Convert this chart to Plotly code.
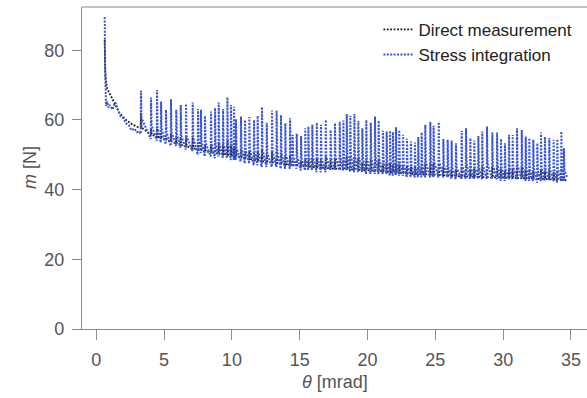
import plotly.graph_objects as go

# ---------------- data ----------------
# initial transient (before the first loading spike)
start_theta_direct = [0.62, 0.63, 0.66, 0.70, 0.80, 1.00, 1.30, 1.70, 2.20, 2.70, 3.10]
start_m_direct = [83.0, 78.0, 74.0, 71.5, 69.0, 67.5, 65.0, 62.0, 60.0, 58.6, 57.9]

start_theta_stress = [0.62, 0.63, 0.65, 0.68, 0.72, 0.80, 0.90, 1.00, 1.20, 1.40, 1.60, 1.80, 2.00, 2.20, 2.40, 2.60, 2.80, 3.00, 3.15]
start_m_stress = [89.5, 88.0, 76.0, 67.0, 64.0, 65.3, 63.5, 64.3, 63.0, 65.0, 62.9, 61.0, 60.5, 59.0, 58.5, 57.0, 57.5, 56.5, 56.8]

# loading spikes: position, stress-integration peak / trough / shoulder,
# direct-measurement base / peak
spike_theta = [3.30, 4.04, 4.48, 4.78, 5.14, 5.51, 5.90, 6.23, 6.62, 7.11,
               7.50, 7.72, 8.02, 8.46, 8.76, 9.03, 9.35, 9.67, 9.94, 10.16,
               10.30, 10.67, 10.97, 11.29, 11.63, 11.90, 12.22, 12.57, 12.96, 13.30,
               13.62, 13.94, 14.29, 14.48, 14.78, 15.10, 15.41, 15.64, 15.93, 16.26,
               16.57, 16.92, 17.28, 17.60, 17.95, 18.22, 18.47, 18.73, 19.03, 19.32,
               19.62, 19.91, 20.24, 20.55, 20.82, 21.14, 21.41, 21.66, 21.88, 22.10,
               22.34, 22.62, 22.91, 23.20, 23.50, 23.74, 23.99, 24.26, 24.63, 24.87,
               25.25, 25.59, 25.91, 26.20, 26.52, 26.94, 27.26, 27.58, 27.87, 28.17,
               28.46, 28.81, 29.20, 29.55, 29.84, 30.13, 30.43, 30.70, 31.02, 31.37,
               31.66, 31.93, 32.22, 32.52, 32.79, 33.08, 33.40, 33.72, 33.99, 34.29,
               34.48]
stress_peak = [68.4, 66.4, 68.6, 65.3, 62.9, 65.9, 62.9, 64.3, 64.6, 65.0,
               63.1, 62.9, 61.2, 62.4, 63.4, 65.0, 63.1, 66.5, 64.3, 63.8,
               60.2, 61.0, 60.0, 60.8, 60.0, 61.2, 63.7, 59.2, 62.7, 62.7,
               61.4, 59.1, 60.5, 55.7, 56.0, 55.4, 57.6, 58.1, 58.6, 59.2,
               58.6, 60.0, 57.1, 59.1, 59.5, 59.8, 61.7, 61.2, 61.7, 59.7,
               57.6, 60.0, 59.2, 61.0, 59.8, 56.9, 56.7, 56.9, 56.5, 57.9,
               57.1, 55.7, 54.6, 53.8, 53.5, 55.1, 56.4, 58.6, 59.5, 58.3,
               59.4, 54.5, 54.3, 54.1, 53.3, 56.9, 57.6, 54.8, 54.1, 55.4,
               56.7, 58.1, 56.4, 56.4, 54.6, 53.3, 55.7, 55.7, 57.6, 57.1,
               55.2, 54.8, 54.3, 53.3, 56.4, 55.2, 54.8, 54.3, 54.5, 56.7,
               51.9]
stress_trough = [56.0, 54.5, 54.0, 53.5, 53.0, 52.5, 52.5, 52.0, 51.5, 51.0,
                 50.0, 50.5, 49.5, 49.5, 49.0, 49.5, 49.0, 49.0, 48.5, 48.5,
                 48.5, 48.0, 47.5, 47.5, 47.0, 47.0, 46.5, 46.5, 46.5, 46.5,
                 46.0, 46.0, 46.0, 46.5, 46.0, 45.5, 45.5, 45.5, 45.5, 45.0,
                 45.0, 45.0, 45.5, 45.5, 45.5, 45.5, 45.5, 45.0, 45.0, 45.0,
                 45.0, 44.5, 44.5, 44.5, 44.5, 44.5, 44.5, 44.0, 44.0, 44.0,
                 44.0, 44.0, 43.5, 43.5, 43.5, 43.5, 43.5, 43.5, 43.5, 43.5,
                 43.5, 43.5, 43.5, 43.0, 43.0, 43.0, 43.0, 43.0, 43.0, 43.0,
                 43.0, 43.0, 43.0, 43.0, 42.5, 42.5, 43.0, 43.0, 43.0, 43.0,
                 42.5, 42.5, 42.5, 42.0, 42.5, 42.5, 42.5, 42.5, 42.0, 42.5,
                 42.5]
stress_shoulder = [60.5, 58.5, 58.0, 57.5, 56.5, 56.5, 56.0, 55.5, 55.5, 55.0,
                   54.5, 54.0, 53.5, 53.5, 53.0, 53.5, 53.0, 53.5, 53.0, 52.5,
                   52.0, 52.0, 51.5, 51.5, 51.0, 51.0, 51.5, 50.5, 51.0, 51.0,
                   50.5, 50.0, 50.0, 49.5, 49.5, 49.0, 49.0, 49.5, 49.5, 49.5,
                   49.0, 49.5, 49.0, 49.5, 49.5, 49.5, 50.0, 50.0, 50.0, 49.5,
                   49.0, 49.0, 49.0, 49.5, 49.0, 48.5, 48.0, 48.0, 48.0, 48.0,
                   48.0, 47.5, 47.0, 47.0, 46.5, 47.0, 47.5, 48.0, 48.0, 48.0,
                   48.0, 47.0, 46.5, 46.5, 46.5, 47.0, 47.5, 46.5, 46.5, 46.5,
                   47.0, 47.5, 47.0, 47.0, 46.5, 46.0, 46.5, 46.5, 47.0, 47.0,
                   46.5, 46.0, 46.0, 45.5, 46.5, 46.0, 46.0, 46.0, 46.0, 46.5,
                   45.5]
direct_base = [57.8, 55.8, 55.2, 54.8, 54.2, 53.8, 53.2, 52.8, 52.4, 51.9,
               51.5, 51.3, 51.0, 50.7, 50.5, 50.3, 50.2, 50.0, 49.8, 49.6,
               49.5, 49.3, 49.0, 48.8, 48.5, 48.4, 48.2, 48.0, 47.8, 47.6,
               47.5, 47.3, 47.2, 47.1, 47.0, 46.8, 46.7, 46.6, 46.5, 46.4,
               46.3, 46.2, 46.1, 46.0, 46.0, 45.9, 45.9, 45.8, 45.8, 45.7,
               45.6, 45.6, 45.5, 45.4, 45.3, 45.2, 45.1, 45.0, 45.0, 44.9,
               44.8, 44.7, 44.6, 44.6, 44.5, 44.5, 44.4, 44.4, 44.3, 44.3,
               44.2, 44.1, 44.0, 44.0, 43.9, 43.8, 43.8, 43.7, 43.7, 43.6,
               43.6, 43.6, 43.5, 43.5, 43.5, 43.4, 43.4, 43.4, 43.3, 43.3,
               43.3, 43.2, 43.2, 43.1, 43.1, 43.0, 43.0, 42.9, 42.9, 42.8,
               42.8]
direct_peak = [62.0, 57.5, 58.0, 56.5, 55.5, 56.0, 55.0, 55.0, 55.0, 55.0,
               53.5, 53.5, 53.0, 53.0, 53.0, 53.5, 53.0, 54.0, 53.0, 52.5,
               51.5, 51.5, 51.0, 51.0, 50.5, 51.0, 51.5, 50.0, 51.0, 51.0,
               50.5, 49.5, 50.0, 48.5, 48.5, 48.0, 48.5, 48.5, 49.0, 49.0,
               49.0, 49.5, 48.5, 49.0, 49.0, 49.0, 49.5, 49.5, 49.5, 49.0,
               48.0, 49.0, 48.5, 49.0, 48.5, 47.5, 47.5, 47.5, 47.0, 47.5,
               47.5, 47.0, 46.5, 46.5, 46.5, 46.5, 47.0, 47.5, 47.5, 47.5,
               47.5, 46.5, 46.5, 46.0, 46.0, 46.5, 47.0, 46.0, 46.0, 46.0,
               46.5, 47.0, 46.5, 46.5, 46.0, 45.5, 46.0, 46.0, 46.5, 46.5,
               45.5, 45.5, 45.5, 45.0, 46.0, 45.5, 45.5, 45.0, 45.0, 46.0,
               45.0]
end_theta = [34.73]
end_m_direct = [42.6]
end_m_stress = [43.4]

# ---------------- assemble the two series ----------------
theta_stress = list(start_theta_stress)
m_stress = list(start_m_stress)
theta_direct = list(start_theta_direct)
m_direct = list(start_m_direct)
for t, pk, tr, sh, bb, bp in zip(spike_theta, stress_peak, stress_trough,
                                 stress_shoulder, direct_base, direct_peak):
    theta_stress += [t - 0.02, t, t + 0.04]
    m_stress += [tr, pk, sh]
    theta_direct += [t - 0.02, t, t + 0.05]
    m_direct += [bb, bp, bb]
theta_stress += end_theta
m_stress += end_m_stress
theta_direct += end_theta
m_direct += end_m_direct

BLUE = "#3a55cc"
BLACK = "#1a1a1a"
GREY = "#8a8a8a"
TXT = "#555555"
FONT = "Liberation Sans, Arial, sans-serif"

fig = go.Figure()
fig.add_trace(go.Scatter(x=theta_direct, y=m_direct, mode="lines",
                         name="Direct measurement",
                         line=dict(color=BLACK, width=1.8, dash="1.8px,1.6px")))
fig.add_trace(go.Scatter(x=theta_stress, y=m_stress, mode="lines",
                         name="Stress integration",
                         line=dict(color=BLUE, width=2, dash="2px,1.4px")))

axis_common = dict(showline=True, linecolor=GREY, linewidth=1.2, ticks="outside",
                   tickcolor=GREY, tickwidth=1.2, showgrid=False, zeroline=False,
                   ticklabelstandoff=4,
                   tickfont=dict(family=FONT, size=18, color=TXT))
fig.update_xaxes(range=[-1.05, 36.18], tickvals=[0, 5, 10, 15, 20, 25, 30, 35],
                 ticklen=10, **axis_common)
fig.update_yaxes(range=[0, 92.4], tickvals=[0, 20, 40, 60, 80], ticklen=9, **axis_common)

# top frame line (right spine lies outside the picture)
fig.add_shape(type="line", xref="paper", yref="paper", x0=0, x1=1, y0=1, y1=1,
              line=dict(color=GREY, width=1.2))

fig.add_annotation(text="<i>θ</i> [mrad]", xref="paper", yref="paper", x=0.5, y=0,
                   yshift=-53, xanchor="center", yanchor="middle", showarrow=False,
                   font=dict(family=FONT, size=18, color=TXT))
fig.add_annotation(text="<i>m</i> [N]", xref="paper", yref="paper", x=0, y=0.5,
                   xshift=-52, xanchor="center", yanchor="middle", textangle=-90,
                   showarrow=False, font=dict(family=FONT, size=18, color=TXT))

fig.update_layout(
    width=587, height=398,
    margin=dict(l=82, r=0, t=7, b=69),
    plot_bgcolor="white", paper_bgcolor="white",
    showlegend=True,
    legend=dict(x=0.587, y=0.985, xanchor="left", yanchor="top",
                bgcolor="rgba(0,0,0,0)", font=dict(family=FONT, size=17, color="#222222"),
                tracegroupgap=0, itemwidth=30),
)

fig.write_html("out.html", config={"displayModeBar": False},
               post_script="document.body.style.margin='0';document.body.style.overflow='hidden';")
